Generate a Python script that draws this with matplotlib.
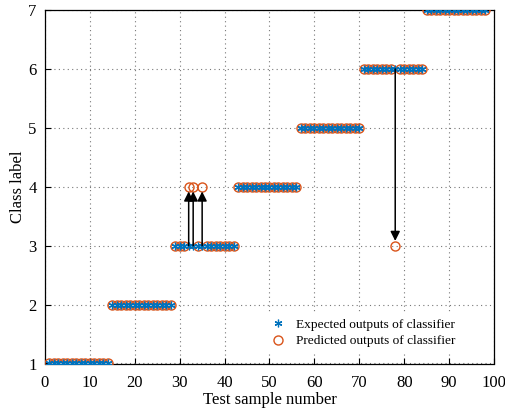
import numpy as np
import matplotlib
matplotlib.use("Agg")
import matplotlib.pyplot as plt

# test samples and class labels (14 samples per class)
samples = np.arange(1, 99)
expected = np.repeat([1, 2, 3, 4, 5, 6, 7], 14)
predicted = expected.copy()
# misclassified samples: index -> predicted label
wrong_samples = [32, 33, 35, 78]
wrong_labels = [4, 4, 4, 3]
for s, lab in zip(wrong_samples, wrong_labels):
    predicted[s - 1] = lab

plt.rcParams["font.family"] = ["Liberation Serif", "DejaVu Serif"]

fig = plt.figure(figsize=(5.06, 4.11), dpi=100)
ax = fig.add_axes([45 / 506, 1 - 363.5 / 411, (494 - 45) / 506, (363.5 - 10) / 411])

ax.plot(samples, predicted, "o", ms=6.5, mfc="none", mec="#D95319", mew=1.0,
        label="Predicted outputs of classifier", zorder=3)
ax.plot(samples, expected, marker=(6, 2, 0), ls="none", ms=5.5, color="#0072BD",
        mew=0.9, label="Expected outputs of classifier", zorder=4)

# arrows from expected to predicted label
for s, lab in zip(wrong_samples, wrong_labels):
    start = expected[s - 1]
    off = 0.08 if lab > start else -0.08
    ax.annotate("", xy=(s, lab - off), xytext=(s, start),
                arrowprops=dict(arrowstyle="-|>", color="black", lw=1.1,
                                mutation_scale=14, shrinkA=0, shrinkB=0),
                zorder=5)

ax.set_xlim(0, 100)
ax.set_ylim(1, 7)
ax.set_xticks(np.arange(0, 101, 10))
ax.set_yticks(np.arange(1, 8, 1))
ax.grid(True, linestyle=(0, (1, 3)), color="#777777", linewidth=0.8)
ax.tick_params(direction="in", length=4, labelsize=12, width=0.8, pad=6)
ax.tick_params(axis="x", pad=8)
for sp in ax.spines.values():
    sp.set_linewidth(0.9)
ax.set_xlabel("Test sample number", fontsize=12, labelpad=1)
ax.set_ylabel("Class label", fontsize=12, labelpad=2)

handles, labels = ax.get_legend_handles_labels()
leg = ax.legend(handles[::-1], labels[::-1], loc="lower right",
                bbox_to_anchor=(0.94, 0.012), frameon=True, fontsize=9.6,
                handletextpad=0.7, borderpad=0.4, labelspacing=0.3,
                handlelength=1.2)
leg.get_frame().set_edgecolor("none")
leg.get_frame().set_facecolor("white")
leg.get_frame().set_alpha(1)

fig.savefig("out.png", dpi=100)
